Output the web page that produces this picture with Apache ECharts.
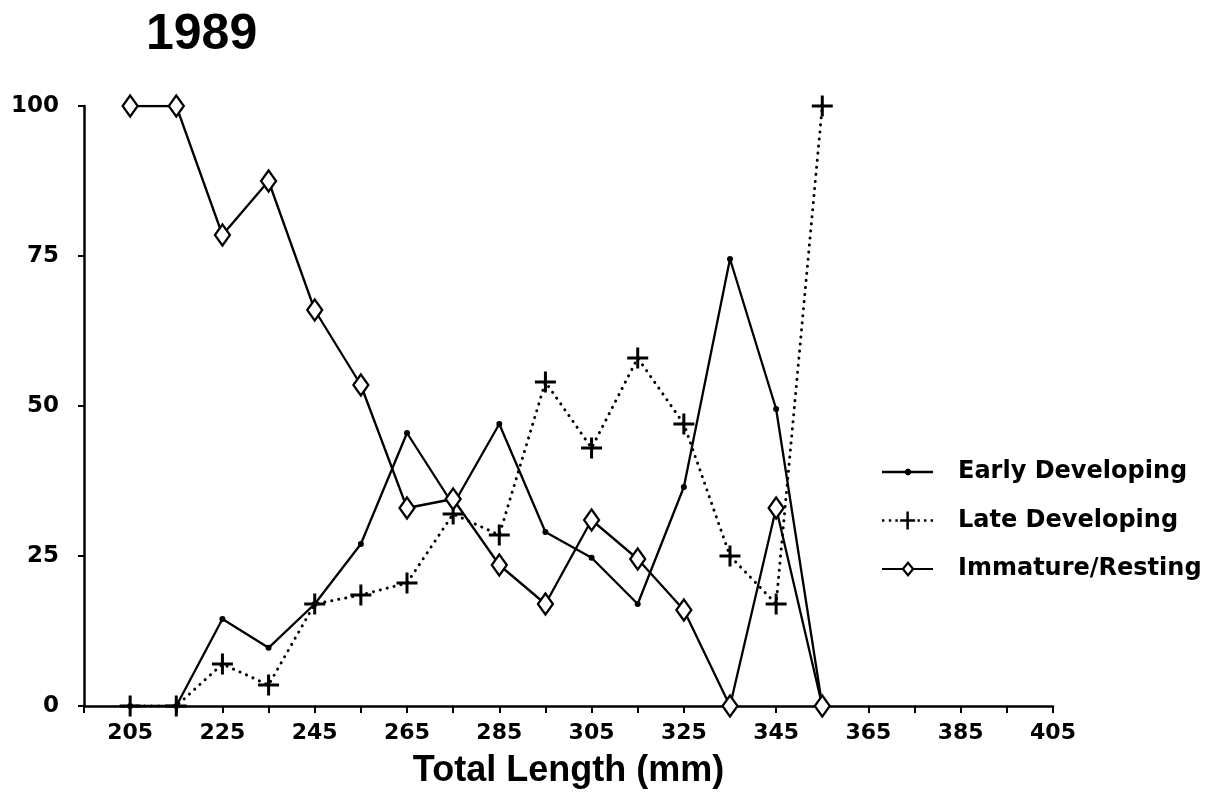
<!DOCTYPE html>
<html>
<head>
<meta charset="utf-8">
<script src="https://cdn.jsdelivr.net/npm/echarts@6/dist/echarts.min.js"></script>
<style>
html,body{margin:0;padding:0;background:#fff;}
#chart{width:1207px;height:801px;}
</style>
</head>
<body>
<div id="chart"></div>
<script>
// ---- data ----
const titleText = '1989';
const xAxisTitle = 'Total Length (mm)';
const lengths = [205, 215, 225, 235, 245, 255, 265, 275, 285, 295, 305, 315, 325, 335, 345, 355];
const earlyDeveloping = [0, 0, 14.5, 9.7, 17, 27, 45.5, 33.5, 47, 29, 24.7, 17, 36.5, 74.5, 49.5, 0];
const lateDeveloping  = [0, 0, 7, 3.5, 17, 18.5, 20.5, 32, 28.5, 54, 43, 58, 47, 25, 17, 100];
const immatureResting = [100, 100, 78.5, 87.5, 66, 53.5, 33, 34.5, 23.5, 17, 31, 24.5, 16, 0, 33, 0];
const seriesNames = ['Early Developing', 'Late Developing', 'Immature/Resting'];
const xTickValues = [195, 205, 215, 225, 235, 245, 255, 265, 275, 285, 295, 305, 315, 325, 335, 345, 355, 365, 375, 385, 395, 405];
const xLabelValues = [205, 225, 245, 265, 285, 305, 325, 345, 365, 385, 405];
const yTickValues = [0, 25, 50, 75, 100];

const pairs = vals => lengths.map((x, i) => [x, vals[i]]);

// symbol / legend icon shapes
const plusSymbol = 'path://M9,0 L12,0 L12,9 L21,9 L21,12 L12,12 L12,21 L9,21 L9,12 L0,12 L0,9 L9,9 Z';
const earlyIcon = 'path://M0,2 L51,2 L51,4.4 L0,4.4 Z M24.7,0 L27.3,0 L29.2,1.9 L29.2,4.5 L27.3,6.4 L24.7,6.4 L22.8,4.5 L22.8,1.9 Z';
const lateIcon = 'path://M24.25,0 L26.75,0 L26.75,7.75 L33,7.75 L33,10.25 L26.75,10.25 L26.75,18 L24.25,18 L24.25,10.25 L18,10.25 L18,7.75 L24.25,7.75 Z ' +
  'M0,7.8 L2.4,7.8 L2.4,10.2 L0,10.2 Z M6.8,7.8 L9.2,7.8 L9.2,10.2 L6.8,10.2 Z M13.3,7.8 L15.7,7.8 L15.7,10.2 L13.3,10.2 Z ' +
  'M35.3,7.8 L37.7,7.8 L37.7,10.2 L35.3,10.2 Z M41.8,7.8 L44.2,7.8 L44.2,10.2 L41.8,10.2 Z M48.4,7.8 L50.8,7.8 L50.8,10.2 L48.4,10.2 Z';
const immIcon = 'path://M26,0 L32.5,8 L26,16 L19.5,8 Z M26,3.4 L22.3,8 L26,12.6 L29.7,8 Z ' +
  'M0,6.9 L20,6.9 L20,9.1 L0,9.1 Z M32,6.9 L51,6.9 L51,9.1 L32,9.1 Z';

const tickFont = 'DejaVu Sans';
const chart = echarts.init(document.getElementById('chart'), null, {renderer: 'canvas'});
chart.setOption({
  animation: false,
  backgroundColor: '#ffffff',
  title: {
    text: titleText,
    left: 146,
    top: 10,
    padding: 0,
    textStyle: {fontFamily: 'Liberation Sans', fontSize: 50, fontWeight: 'bold', color: '#000', lineHeight: 50}
  },
  grid: {left: 84, right: 154, top: 106, bottom: 95, containLabel: false},
  legend: {
    orient: 'vertical',
    left: 882,
    top: 460,
    padding: 0,
    itemWidth: 51,
    itemHeight: 20,
    itemGap: 24.5,
    symbolKeepAspect: true,
    textStyle: {fontFamily: tickFont, fontSize: 24, fontWeight: 'bold', color: '#000', lineHeight: 24, padding: [0, 0, 0, 20]},
    data: [
      {name: seriesNames[0], icon: earlyIcon, itemStyle: {color: '#000', borderWidth: 0}},
      {name: seriesNames[1], icon: lateIcon, itemStyle: {color: '#000', borderWidth: 0}},
      {name: seriesNames[2], icon: immIcon, itemStyle: {color: '#000', borderWidth: 0, borderColor: 'transparent'}}
    ]
  },
  xAxis: {
    type: 'value',
    min: 195,
    max: 405,
    name: xAxisTitle,
    nameLocation: 'middle',
    nameGap: 47,
    nameTextStyle: {fontFamily: 'Liberation Sans', fontSize: 36, fontWeight: 'bold', color: '#000'},
    axisLine: {show: true, onZero: false, lineStyle: {color: '#000', width: 2.5}},
    axisTick: {show: true, inside: false, length: 7, lineStyle: {color: '#000', width: 2}, customValues: xTickValues},
    axisLabel: {show: true, margin: 16, fontFamily: tickFont, fontSize: 22, fontWeight: 'bold', color: '#000', customValues: xLabelValues},
    splitLine: {show: false}
  },
  yAxis: {
    type: 'value',
    min: 0,
    max: 100,
    interval: 25,
    axisLine: {show: true, lineStyle: {color: '#000', width: 2.5}},
    axisTick: {show: true, inside: false, length: 6, lineStyle: {color: '#000', width: 2}, customValues: yTickValues},
    axisLabel: {show: true, margin: 25, fontFamily: tickFont, fontSize: 23, fontWeight: 'bold', color: '#000', customValues: yTickValues},
    splitLine: {show: false}
  },
  series: [
    {
      name: seriesNames[0],
      type: 'line',
      data: pairs(earlyDeveloping),
      symbol: 'circle',
      symbolSize: 6,
      itemStyle: {color: '#000'},
      lineStyle: {color: '#000', width: 2.3},
      z: 3
    },
    {
      name: seriesNames[1],
      type: 'line',
      data: pairs(lateDeveloping),
      symbol: plusSymbol,
      symbolSize: 21,
      itemStyle: {color: '#000'},
      lineStyle: {color: '#000', width: 3, type: [0.1, 7], cap: 'round'},
      z: 4
    },
    {
      name: seriesNames[2],
      type: 'line',
      data: pairs(immatureResting),
      symbol: 'diamond',
      symbolSize: [15, 21],
      itemStyle: {color: '#fff', borderColor: '#000', borderWidth: 2.3},
      lineStyle: {color: '#000', width: 2.3},
      z: 5
    }
  ]
});
</script>
</body>
</html>
